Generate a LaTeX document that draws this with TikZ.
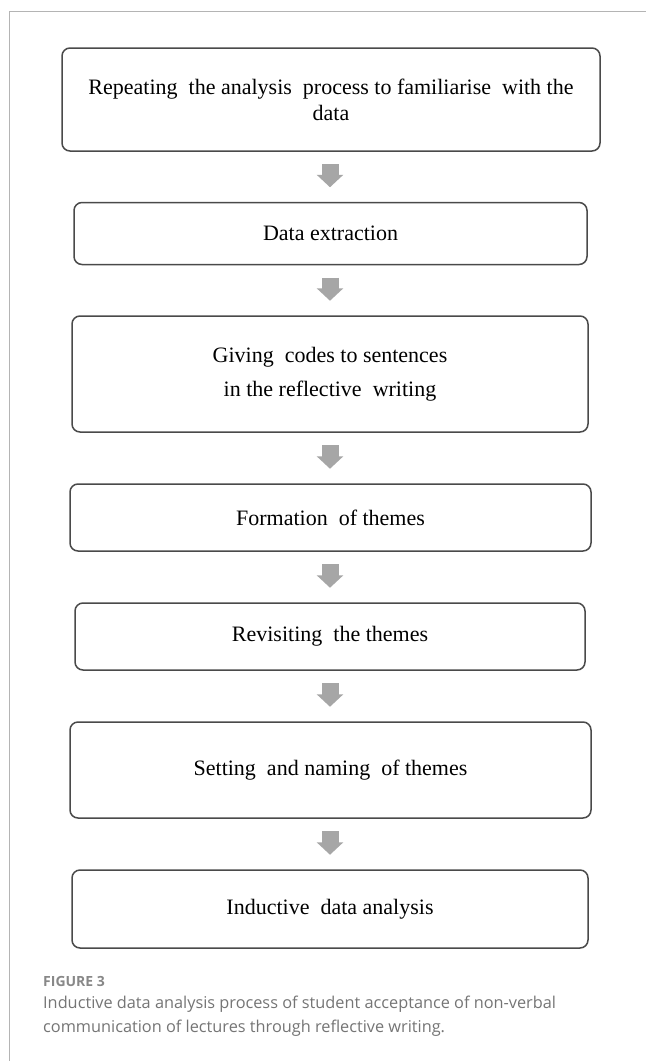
\documentclass[tikz,border=0pt]{standalone}
\usepackage{fontspec}
\setmainfont{Liberation Serif}
\newfontfamily\capfont{Open Sans}
\usetikzlibrary{arrows.meta,calc}
\definecolor{framegray}{HTML}{B4B4B4}
\definecolor{boxline}{HTML}{4A4A4A}
\definecolor{arrowgray}{HTML}{A6A6A6}
\definecolor{capgray}{HTML}{757575}
\definecolor{figgray}{HTML}{888888}
\tikzset{
  stepbox/.style={draw=boxline, line width=1.5pt, rounded corners=8pt, inner sep=0pt,
    align=center, text=black, font=\fontsize{22}{26}\selectfont},
  blockarrow/.style={draw=arrowgray, line width=17pt,
    -{Triangle[width=26pt,length=12.5pt]}, shorten <=12.5pt, shorten >=14.5pt},
  captext/.style={anchor=west, inner sep=0pt, align=left}
}
\begin{document}
\begin{tikzpicture}[x=1pt,y=-1pt]
\useasboundingbox (0,0) rectangle (646,1061);
\fill[white] (0,0) rectangle (646,1061);
% outer frame (top and left edges)
\draw[framegray, line width=1pt] (9,1061) -- (9,11) -- (646,11);

\node[stepbox, minimum width=538pt, minimum height=103pt] (b1) at (331,99.5)
  {Repeating\ \ the analysis\ \ process to familiarise\ \ with\ the\\data};
\node[stepbox, minimum width=513pt, minimum height=62pt] (b2) at (330.5,233.5)
  {Data extraction};
\node[stepbox, minimum width=516pt, minimum height=116pt, font=\fontsize{22}{34}\selectfont] (b3) at (330,374)
  {Giving\ \ codes to sentences\\in the reflective\ \ writing};
\node[stepbox, minimum width=521pt, minimum height=67pt] (b4) at (330.5,517.5)
  {Formation\ \ of themes};
\node[stepbox, minimum width=510pt, minimum height=67pt] (b5) at (330,636.5)
  {Revisiting\ \ the themes};
\node[stepbox, minimum width=521pt, minimum height=96pt] (b6) at (330.5,770)
  {Setting\ \ and naming\ \ of themes};
\node[stepbox, minimum width=516pt, minimum height=78pt] (b7) at (330,909)
  {Inductive\ \ data analysis};

\foreach \a/\b in {b1/b2,b2/b3,b3/b4,b4/b5,b5/b6,b6/b7}{
  \draw[blockarrow] (\a.south -| 330,0) -- (\b.north -| 330,0);
}

\node[captext, text=figgray, font=\capfont\fontsize{14}{16}\selectfont\bfseries] (fig) at (43,981) {FIGURE 3};
\node[captext, text=capgray, font=\capfont\fontsize{16.3}{23.5}\selectfont] (cap) at (43,1016)
  {Inductive data analysis process of student acceptance of non-verbal\\communication of lectures through reflective writing.};
\end{tikzpicture}
\end{document}
